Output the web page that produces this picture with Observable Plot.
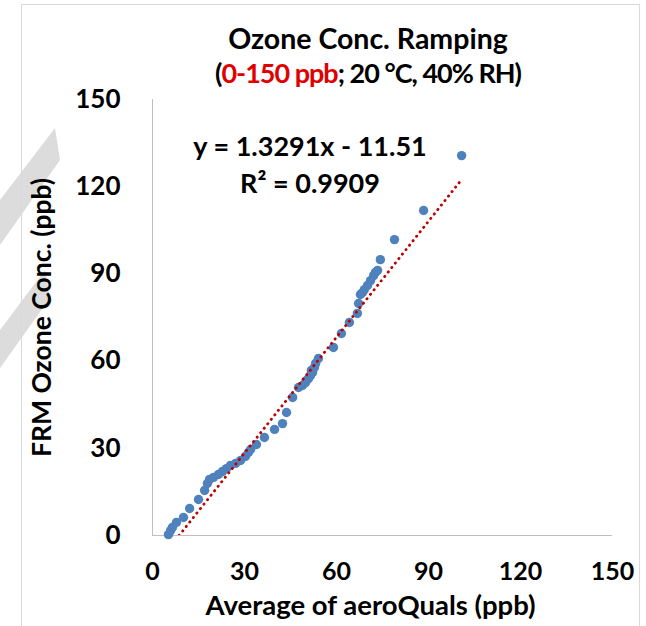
<!DOCTYPE html>
<html><head><meta charset="utf-8">
<script src="https://cdn.jsdelivr.net/npm/d3@7"></script>
<script src="https://cdn.jsdelivr.net/npm/@observablehq/plot@0.6"></script>
<style>
body{margin:0;background:#fff;}
#wrap{position:relative;width:646px;height:626px;overflow:hidden;font-family:Lato,"Open Sans",sans-serif;color:#000;}
#deco{position:absolute;left:0;top:0;}
#chart{position:absolute;left:0;top:0;}
.t{position:absolute;left:0;width:646px;text-align:center;font-weight:bold;white-space:nowrap;padding-left:90px;box-sizing:border-box;}
#t1{top:21px;font-size:28.5px;}
#t2{top:56px;font-size:27px;letter-spacing:-1px;}
#eq{position:absolute;left:160px;top:127px;width:300px;text-align:center;font-weight:bold;font-size:27px;line-height:37px;}
.red{color:#e00000;}
</style></head><body>
<div id="wrap">
<svg id="deco" width="646" height="626">
  <polygon points="0,200 55,128 60,160 0,245" fill="#dcdcdc"/>
  <polygon points="0,330 45,270 50,298 0,368" fill="#dcdcdc"/>
  <rect x="21.5" y="4.5" width="618" height="640" fill="none" stroke="#d9d9d9"/>
</svg>
<div id="chart"></div>
<div class="t" id="t1">Ozone Conc. Ramping</div>
<div class="t" id="t2">(<span class="red">0-150 ppb</span>; 20 °C, 40% RH)</div>
<div id="eq"></div>
</div>
<script>
const aeroQuals = [5.2,5.9,6.5,7.8,10.1,12.1,15.0,17.0,17.9,18.6,19.9,21.5,22.8,24.1,25.4,27.1,28.7,30.3,31.3,32.0,33.9,36.5,39.8,42.4,43.7,45.7,47.6,48.9,49.9,50.2,50.9,51.5,51.8,52.2,52.8,53.2,54.1,59.0,61.6,64.2,66.8,67.2,67.8,68.5,69.1,70.1,71.1,72.1,72.7,73.4,74.3,78.9,88.4,100.8];
const frmOzone  = [0.3,1.7,2.8,4.5,6.2,9.3,12.4,15.5,17.9,19.3,20.0,21.0,22.0,23.0,24.1,24.8,25.8,27.2,28.6,29.6,31.3,33.7,36.5,38.5,42.3,47.5,50.9,51.6,52.6,53.3,54.0,55.0,56.8,56.1,57.8,59.2,60.9,64.7,69.5,73.3,76.4,79.8,82.9,83.6,84.6,86.0,87.7,89.4,90.5,91.2,94.9,101.8,111.8,130.7];
const xTicks = [0,30,60,90,120,150];
const yTicks = [0,30,60,90,120,150];
const slope = 1.3291, intercept = -11.51, rSquared = 0.9909;
const xLabel = "Average of aeroQuals (ppb)";
const yLabel = "FRM Ozone Conc. (ppb)";

const points = aeroQuals.map((x,i)=>({x, y: frmOzone[i]}));
const xr = d3.extent(aeroQuals);
const trend = xr.map(x=>({x, y: slope*x + intercept}));

document.getElementById("eq").innerHTML =
  `y = ${slope}x - ${Math.abs(intercept)}<br>R² = ${rSquared}`;

const font = "Lato, 'Open Sans', sans-serif";
const chart = Plot.plot({
  width: 646, height: 626,
  marginLeft: 152, marginRight: 34, marginTop: 99, marginBottom: 91,
  style: {fontFamily: font, background: "transparent", color: "#000", overflow: "visible"},
  x: {domain: [0,150]},
  y: {domain: [0,150]},
  marks: [
    Plot.ruleY([0], {stroke: "#bfbfbf", strokeWidth: 1}),
    Plot.ruleX([0], {stroke: "#bfbfbf", strokeWidth: 1}),
    Plot.axisX({ticks: xTicks, tickSize: 0, tickPadding: 27, fontSize: 25, fontWeight: "bold", label: null}),
    Plot.axisY({ticks: yTicks, tickSize: 0, tickPadding: 32, fontSize: 26, fontWeight: "bold", label: null}),
    Plot.text([xLabel], {frameAnchor: "bottom", dx: -12, dy: 79, fontSize: 27.5, fontWeight: "bold", fill: "#000"}),
    Plot.text([yLabel], {frameAnchor: "left", textAnchor: "middle", dx: -110, rotate: -90, fontSize: 26.5, fontWeight: "bold", fill: "#000"}),
    Plot.dot(points, {x: "x", y: "y", r: 4.7, fill: "#4f81bd", stroke: "none"}),
    Plot.line(trend, {x: "x", y: "y", stroke: "#c00000", strokeWidth: 2.8, strokeDasharray: "0.3,5.4", strokeLinecap: "round", clip: true})
  ]
});
document.getElementById("chart").appendChild(chart);
</script>
</body></html>
